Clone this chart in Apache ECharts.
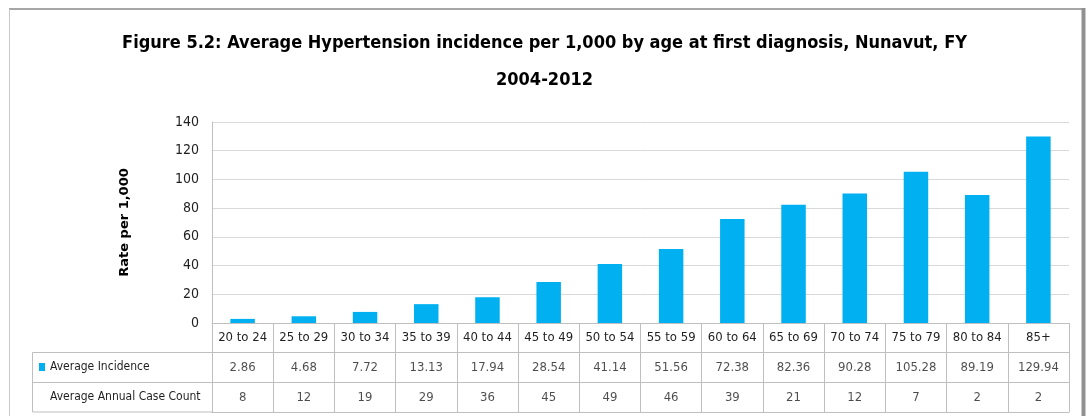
<!DOCTYPE html>
<html>
<head>
<meta charset="utf-8">
<title>Figure 5.2 Hypertension incidence</title>
<script src="https://cdn.jsdelivr.net/npm/echarts@6/dist/echarts.min.js"></script>
<style>
html, body { margin: 0; padding: 0; background: #fff; }
#chart { width: 1089px; height: 416px; }
</style>
</head>
<body>
<div id="chart"></div>
<script>
// data
const ageGroups = ['20 to 24', '25 to 29', '30 to 34', '35 to 39', '40 to 44', '45 to 49', '50 to 54',
  '55 to 59', '60 to 64', '65 to 69', '70 to 74', '75 to 79', '80 to 84', '85+']
const avgIncidence = [2.86, 4.68, 7.72, 13.13, 17.94, 28.54, 41.14, 51.56, 72.38, 82.36, 90.28, 105.28, 89.19, 129.94]
const annualCases = [8, 12, 19, 29, 36, 45, 49, 46, 39, 21, 12, 7, 2, 2]
const rateTicks = [0, 20, 40, 60, 80, 100, 120, 140]
const tableRows = ['', 'Average Incidence', 'Average Annual Case Count']

const FONT = "'DejaVu Sans Condensed', 'Liberation Sans', sans-serif"
const BLUE = '#00B0F0'
const LINE = '#bfbfbf'

const chart = echarts.init(document.getElementById('chart'))

// table cell texts, placed on the table grid's category axes
const incidenceCells = ageGroups.map((g, i) => [g, tableRows[1], avgIncidence[i].toFixed(2)])
const caseCells = ageGroups.map((g, i) => [g, tableRows[2], String(annualCases[i])])

const cellLabel = {
  show: true,
  position: 'inside',
  formatter: p => p.data[2],
  fontFamily: FONT,
  fontSize: 13,
  color: '#1f1f1f'
}

const option = {
  animation: false,
  title: {
    text: 'Figure 5.2: Average Hypertension incidence per 1,000 by age at first diagnosis, Nunavut, FY\n2004-2012',
    left: 'center',
    top: 20,
    textStyle: {
      fontFamily: FONT,
      fontWeight: 'bold',
      fontSize: 18,
      lineHeight: 37,
      color: '#000'
    }
  },
  legend: {
    data: ['Average Incidence'],
    left: 39,
    top: 361,
    padding: 0,
    icon: 'rect',
    itemWidth: 6,
    itemHeight: 8,
    textStyle: { fontFamily: FONT, fontSize: 12, color: '#1f1f1f' },
    selectedMode: false
  },
  grid: [
    { left: 212, right: 20, top: 122, bottom: 93 },
    { left: 212, right: 20, top: 323, bottom: 4 }
  ],
  xAxis: [
    {
      type: 'category',
      gridIndex: 0,
      data: ageGroups,
      axisLine: { lineStyle: { color: LINE } },
      axisTick: { show: false },
      axisLabel: { interval: 0, margin: 8, fontFamily: FONT, fontSize: 13, color: '#1f1f1f' }
    },
    {
      type: 'category',
      gridIndex: 1,
      data: ageGroups,
      axisLine: { lineStyle: { color: LINE } },
      axisTick: { show: false },
      axisLabel: { show: false },
      splitLine: { show: true, interval: 0, lineStyle: { color: LINE } }
    }
  ],
  yAxis: [
    {
      type: 'value',
      gridIndex: 0,
      min: rateTicks[0],
      max: rateTicks[rateTicks.length - 1],
      interval: rateTicks[1] - rateTicks[0],
      name: 'Rate per 1,000',
      nameLocation: 'middle',
      nameRotate: 90,
      nameGap: 81,
      nameTextStyle: { fontFamily: 'DejaVu Sans', fontWeight: 'bold', fontSize: 13, color: '#000' },
      axisLine: { show: true, lineStyle: { color: LINE } },
      axisTick: { show: false },
      axisLabel: { margin: 13, fontFamily: FONT, fontSize: 14, color: '#1f1f1f' },
      splitLine: { lineStyle: { color: '#d9d9d9' } }
    },
    {
      type: 'category',
      gridIndex: 1,
      inverse: true,
      data: tableRows,
      axisLine: { show: true, lineStyle: { color: LINE } },
      axisTick: { show: false },
      axisLabel: {
        align: 'left',
        margin: 162,
        fontFamily: FONT,
        fontSize: 12,
        color: '#1f1f1f',
        formatter: v => (v === tableRows[2] ? v : '')
      },
      splitLine: { show: true, interval: 0, lineStyle: { color: LINE } }
    }
  ],
  graphic: [
    // outer frame of the figure
    { type: 'line', silent: true, shape: { x1: 9, y1: 9, x2: 1084, y2: 9 }, style: { stroke: '#a6a6a6', lineWidth: 2 } },
    { type: 'line', silent: true, shape: { x1: 9.5, y1: 9, x2: 9.5, y2: 416 }, style: { stroke: '#c8c8c8', lineWidth: 1 } },
    { type: 'line', silent: true, shape: { x1: 1083.5, y1: 8, x2: 1083.5, y2: 416 }, style: { stroke: '#919191', lineWidth: 4 } },
    // row-header cells of the data table
    { type: 'rect', silent: true, shape: { x: 32.5, y: 352.5, width: 180, height: 59.5 }, style: { fill: 'none', stroke: LINE, lineWidth: 1 } },
    { type: 'line', silent: true, shape: { x1: 32.5, y1: 382.5, x2: 212, y2: 382.5 }, style: { stroke: LINE, lineWidth: 1 } }
  ],
  series: [
    {
      name: 'Average Incidence',
      type: 'bar',
      xAxisIndex: 0,
      yAxisIndex: 0,
      data: avgIncidence,
      barWidth: '40%',
      itemStyle: { color: BLUE }
    },
    {
      name: 'incidenceRow',
      type: 'scatter',
      xAxisIndex: 1,
      yAxisIndex: 1,
      data: incidenceCells,
      symbolSize: 1,
      itemStyle: { color: 'rgba(0,0,0,0)' },
      label: cellLabel,
      silent: true
    },
    {
      name: 'caseRow',
      type: 'scatter',
      xAxisIndex: 1,
      yAxisIndex: 1,
      data: caseCells,
      symbolSize: 1,
      itemStyle: { color: 'rgba(0,0,0,0)' },
      label: cellLabel,
      silent: true
    }
  ]
}

chart.setOption(option)
</script>
</body>
</html>
